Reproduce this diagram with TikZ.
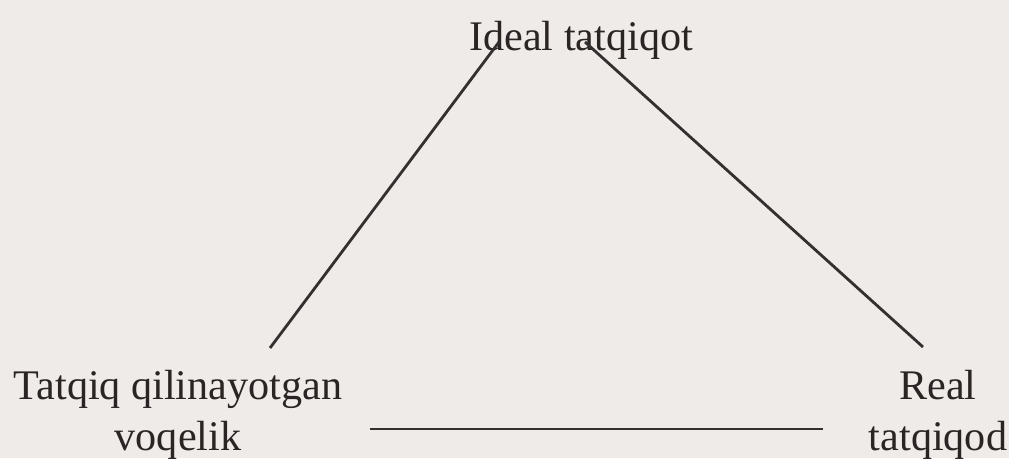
\documentclass[tikz,border=0pt]{standalone}
\usepackage{fontspec}
\setmainfont{Liberation Serif}
\usetikzlibrary{positioning,calc}
\definecolor{paperBg}{HTML}{EFEBE9}
\definecolor{inkDark}{HTML}{2B2424}
\definecolor{lineInk}{HTML}{343030}
\tikzset{
  termtext/.style={inner sep=0pt, align=center, text=inkDark,
    font=\fontsize{30}{36.3}\selectfont},
  edgeLine/.style={draw=lineInk, line width=2pt},
}

\begin{document}
\begin{tikzpicture}
    \fill[paperBg] (0,0) rectangle (25.225,11.45);
    \node[termtext, anchor=base] (ideal) at (14.525,10.175) {Ideal tatqiqot};
    \node[termtext, anchor=north] (reality) at (4.45,2.2) {Tatqiq qilinayotgan\\ voqelik};
    \node[termtext, anchor=north] (real) at (23.45,2.2) {Real\\ tatqiqod};
    \coordinate (idealL) at ($(ideal.base)+(-2.05,0.225)$);
    \coordinate (idealR) at ($(ideal.base)+(0.1,0.225)$);
    \coordinate (realityTop) at ($(reality.north)+(2.3,0.55)$);
    \coordinate (realTop) at ($(real.north)+(-0.375,0.575)$);
    \coordinate (realityEnd) at ($(reality.north)+(4.8,-1.475)$);
    \coordinate (realEnd) at ($(real.north)+(-2.875,-1.475)$);
    \draw[edgeLine] (idealL) -- (realityTop);
    \draw[edgeLine] (idealR) -- (realTop);
    \draw[edgeLine] (realityEnd) -- (realEnd);
\end{tikzpicture}
\end{document}
